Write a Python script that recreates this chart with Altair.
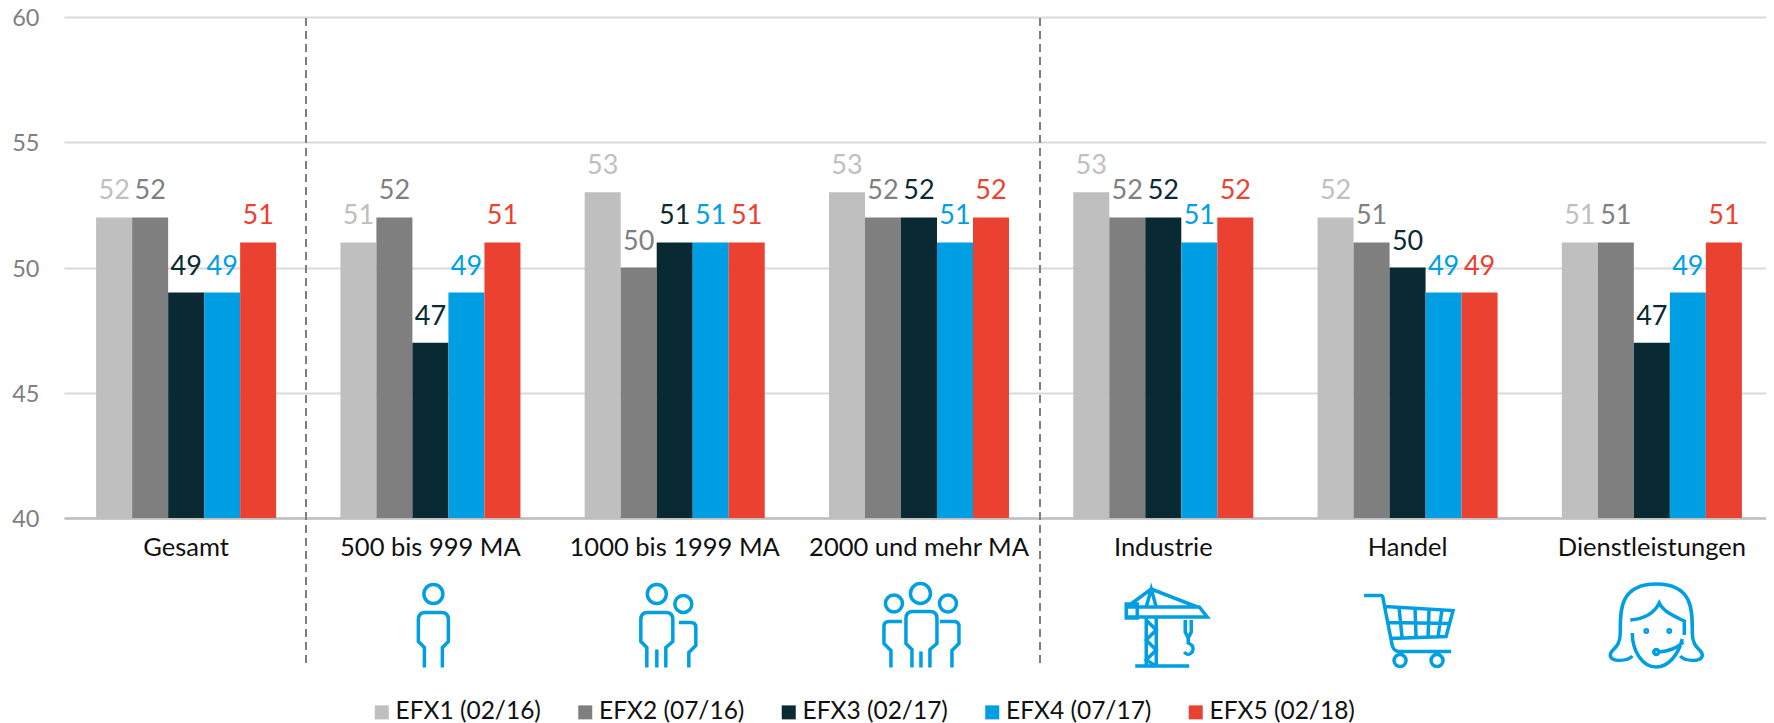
import altair as alt
import pandas as pd

categories = ["Gesamt", "500 bis 999 MA", "1000 bis 1999 MA", "2000 und mehr MA",
              "Industrie", "Handel", "Dienstleistungen"]
series_names = ["EFX1 (02/16)", "EFX2 (07/16)", "EFX3 (02/17)", "EFX4 (07/17)", "EFX5 (02/18)"]
efx1 = [52, 51, 53, 53, 53, 52, 51]
efx2 = [52, 52, 50, 52, 52, 51, 51]
efx3 = [49, 47, 51, 52, 52, 50, 47]
efx4 = [49, 49, 51, 51, 51, 49, 49]
efx5 = [51, 51, 51, 52, 52, 49, 51]
colors = ["#BFBFBF", "#7F7F7F", "#0A2A33", "#009FE3", "#EA4130"]

FONT = "Lato"
BLUE = "#009FE3"

rows = []
for name, vals in zip(series_names, [efx1, efx2, efx3, efx4, efx5]):
    for c, v in zip(categories, vals):
        rows.append({"cat": c, "series": name, "value": v})
df = pd.DataFrame(rows)

xscale = alt.Scale(paddingInner=0.263, paddingOuter=0.1315, range=[0, 1710])
xs = alt.X("cat:N", sort=categories, title=None, scale=xscale,
           axis=alt.Axis(labelAngle=0, labelFontSize=25.5, labelFont=FONT, labelColor="#111111",
                         labelPadding=17, ticks=False, domainColor="#BFBFBF", domainWidth=2.5,
                         grid=False, labelLimit=400))
ys = alt.Y("value:Q", title=None, scale=alt.Scale(domain=[40, 60], nice=False, zero=False),
           axis=alt.Axis(values=[40, 45, 50, 55, 60], domain=False, ticks=False, gridColor="#D9D9D9",
                         gridWidth=2, labelFontSize=23.5, labelFont=FONT, labelColor="#7F7F7F",
                         labelPadding=25, labelOffset=1.5))
offs = alt.XOffset("series:N", sort=series_names, scale=alt.Scale(paddingInner=0, paddingOuter=0))
col_scale = alt.Scale(domain=series_names, range=colors)

bars = alt.Chart(df).mark_bar(clip=False).encode(
    x=xs, xOffset=offs, y=ys, y2=alt.datum(40),
    color=alt.Color("series:N", sort=series_names, scale=col_scale, title=None,
                    legend=alt.Legend(orient="none", legendX=305.5, legendY=683, direction="horizontal",
                                      columns=5, symbolType="square", symbolSize=196, symbolStrokeWidth=0,
                                      labelFontSize=24.5, labelFont=FONT, labelColor="#111111",
                                      columnPadding=31.5, labelOffset=1.5, labelLimit=300,
                                      symbolOpacity=1)),
)
labels = alt.Chart(df).mark_text(baseline="alphabetic", dy=-18, fontSize=27, font=FONT).encode(
    x=xs, xOffset=offs, y=ys, text="value:Q",
    color=alt.Color("series:N", sort=series_names, scale=col_scale, legend=None),
)

separators = [alt.Chart(pd.DataFrame({"a": [0]})).mark_rule(
    color="#7F7F7F", strokeWidth=2, strokeDash=[8, 5]).encode(
    x=alt.value(px), y=alt.value(1), y2=alt.value(651)) for px in (242, 976)]

def circle(cx, cy, r):
    return f"M {cx + r} {cy} A {r} {r} 0 1 1 {cx - r} {cy} A {r} {r} 0 1 1 {cx + r} {cy} Z "

ICON_PERSON = (circle(0, -31.5, 9.5) +
               "M -9 42 L -9 22 L -15 16 L -15 -6 Q -15 -13 -8 -13 L 8 -13 Q 15 -13 15 -6 L 15 16 L 9 22 L 9 42")
ICON_TWO = (circle(-12, -31.5, 9.5) + circle(14.5, -21.5, 8.5) +
            "M -22 42 L -22 22 L -28 16 L -28 -6 Q -28 -13 -21 -13 L -3 -13 Q 4 -13 4 -6 L 4 16 L -3 22 L -3 42 "
            "M -12 42 L -12 24 "
            "M 10 -3 L 22 -3 Q 27 -3 27 2 L 27 20 L 20 27 L 20 42")
ICON_THREE = (circle(-1.5, -32, 10) + circle(-28, -22, 8.5) + circle(26, -22, 8.5) +
              "M -10 42 L -10 24 L -16 18 L -16 -7 Q -16 -14 -9 -14 L 8 -14 Q 15 -14 15 -7 L 15 18 L 8 24 L 8 42 "
              "M -1 42 L -1 26 "
              "M -20 -4 L -33 -4 Q -38 -4 -38 1 L -38 18 L -31 25 L -31 42 "
              "M 18 -4 L 32 -4 Q 37 -4 37 1 L 37 18 L 30 25 L 30 42")
ICON_CRANE = ("M -40 -21 L -40 -11 L 41 -11 L 33 -21 Z M -40 -24 L -29 -24 L -29 -10 L -40 -10 Z "
              "M -38 -22 L -15 -39 L 31 -21 M -20 -21 L -15 -39 L -10 -21 "
              "M -20 -11 L -20 38 M -10 -11 L -10 38 "
              "M -20 -8 L -10 2 L -20 12 L -10 22 L -20 32 L -10 38 "
              "M -31 38 L 23 38 "
              "M 19 -8 L 19 4 L 22 10 L 25 4 L 25 -8 M 22 10 L 22 15 Q 29 18 26 24 Q 22 29 18 24")
ICON_CART = ("M -45 -35 L -28 -35 Q -26 -35 -26 -32 L -17 14 Q -16 21 -9 21 L 42 21 "
             "M -24 -24 L 44 -20 L 37 6 L -19 8 "
             "M -21 -8 L 41 -7 "
             "M -10 -23 L -7 7 M 6 -22 L 7 7 M 20 -21 L 19 7 M 33 -21 L 29 6 "
             + circle(-9, 30, 6) + circle(28, 30, 6))
ICON_WOMAN = ("M -24 31 C -28 36 -46 38 -46 30 C -46 24 -36 24 -36 8 C -36 -12 -38 -41 0 -41 "
              "C 38 -41 36 -12 36 8 C 36 24 46 24 46 30 C 46 38 28 36 24 31 "
              "M -24 8 C -24 26 -14 42 0 42 C 12 42 22 30 26 14 "
              "M -26 -5 C -12 -6 -2 -12 3 -22 C 8 -12 20 -8 28 -4 L 28 10 "
              + circle(-10, 6, 1.2) + circle(13, 6, 1.2) + circle(0, 27, 2.5) +
              "M 2 27 Q 18 26 27 17")

icons = [
    ("500 bis 999 MA", ICON_PERSON, 4, 625.5),
    ("1000 bis 1999 MA", ICON_TWO, -8, 625.5),
    ("2000 und mehr MA", ICON_THREE, 4, 625.5),
    ("Industrie", ICON_CRANE, 4, 628),
    ("Handel", ICON_CART, 2, 630.5),
    ("Dienstleistungen", ICON_WOMAN, 6, 625),
]
icon_layers = [alt.Chart(pd.DataFrame({"cat": [c]})).mark_point(
    shape=p, size=4, filled=False, stroke=BLUE, strokeWidth=3.5, opacity=1).encode(
    x=alt.X("cat:N", sort=categories, title=None, scale=xscale, bandPosition=0.5 + dx / 244.3),
    y=alt.value(cy - 17)) for c, p, dx, cy in icons]

chart = alt.layer(bars, labels, *separators, *icon_layers).properties(
    width=1702, height=501,
    autosize=alt.AutoSizeParams(type="none"),
    padding={"left": 56, "top": 9, "right": 0, "bottom": 205},
).configure_view(stroke=None)

chart.save("out.html", embed_options={"renderer": "svg", "actions": False})
